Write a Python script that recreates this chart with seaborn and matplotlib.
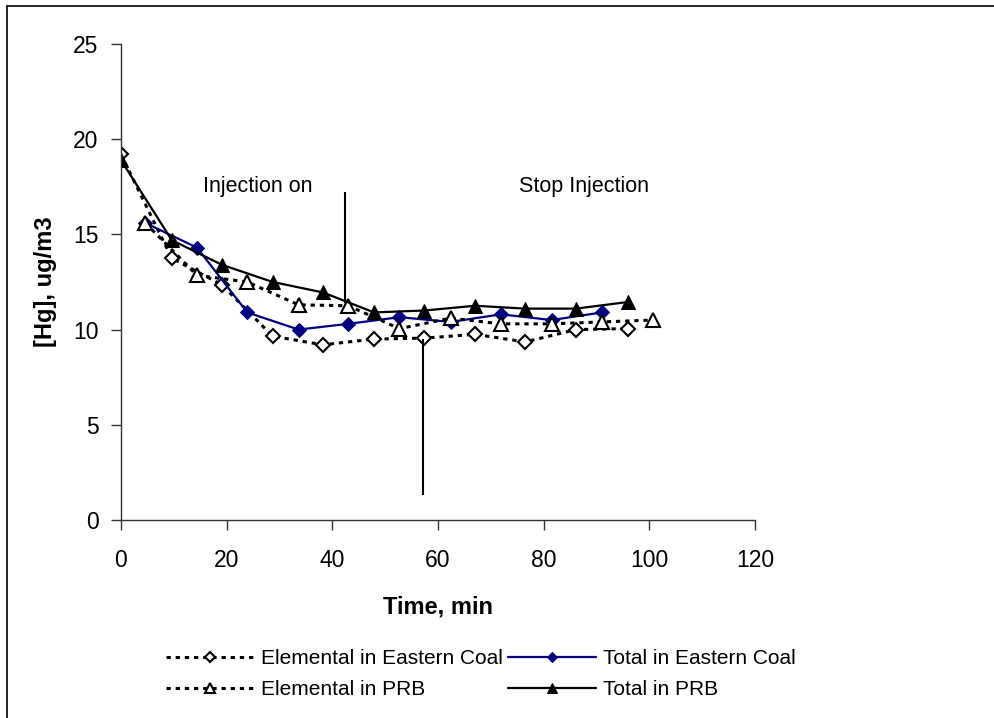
import matplotlib
matplotlib.use("Agg")
import matplotlib.pyplot as plt
from matplotlib.lines import Line2D
import seaborn as sns

# Sampling times (min): two interleaved schedules
time_a = [0, 9.6, 19.1, 28.7, 38.2, 47.9, 57.4, 67.0, 76.5, 86.1, 96.0]
time_b = [4.6, 14.4, 23.9, 33.6, 43.0, 52.7, 62.4, 71.9, 81.5, 91.0, 100.6]

# Mercury concentration, ug/m3
elemental_eastern = [19.2, 13.75, 12.35, 9.65, 9.2, 9.5, 9.55, 9.75, 9.35, 10.0, 10.05]
total_eastern = [15.6, 14.3, 10.9, 10.0, 10.3, 10.65, 10.4, 10.8, 10.5, 10.9]
elemental_prb = [15.6, 12.85, 12.5, 11.3, 11.25, 10.05, 10.6, 10.3, 10.3, 10.4, 10.5]
total_prb = [18.9, 14.7, 13.4, 12.5, 11.95, 10.9, 11.0, 11.25, 11.1, 11.1, 11.45]

labels = ["Elemental in Eastern Coal", "Total in Eastern Coal",
          "Elemental in PRB", "Total in PRB"]

# Injection markers: (time, y_low, y_high)
injection_on = (42.4, 11.4, 17.2)
injection_stop = (57.2, 1.3, 9.5)

x_ticks = [0, 20, 40, 60, 80, 100, 120]
y_ticks = [0, 5, 10, 15, 20, 25]

sns.set_style("ticks")
plt.rcParams["font.family"] = ["Liberation Sans", "DejaVu Sans"]
plt.rcParams["text.color"] = "black"

fig = plt.figure(figsize=(9.94, 7.18), dpi=100)
ax = fig.add_axes([0.1217, 0.2758, 0.638, 0.663])

navy = "#000080"
dot = (0, (1.4, 1.6))

sns.lineplot(x=time_a, y=elemental_eastern, ax=ax, color="black", lw=2.2,
             linestyle=dot, marker="D", markersize=7, markerfacecolor="white",
             markeredgecolor="black", markeredgewidth=1.5, label=labels[0])
sns.lineplot(x=time_b[:len(total_eastern)], y=total_eastern, ax=ax, color=navy,
             lw=1.6, marker="D", markersize=7, markerfacecolor=navy,
             markeredgecolor=navy, label=labels[1])
sns.lineplot(x=time_b, y=elemental_prb, ax=ax, color="black", lw=2.2,
             linestyle=dot, marker="^", markersize=10, markerfacecolor="white",
             markeredgecolor="black", markeredgewidth=1.5, label=labels[2])
sns.lineplot(x=time_a, y=total_prb, ax=ax, color="black", lw=1.6,
             marker="^", markersize=10, markerfacecolor="black",
             markeredgecolor="black", label=labels[3])

ax.vlines([injection_on[0]], injection_on[1], injection_on[2], color="black", lw=1.5)
ax.vlines([injection_stop[0]], injection_stop[1], injection_stop[2], color="black", lw=1.5)
ax.text(25.9, 17.5, "Injection on", ha="center", va="center", fontsize=15.5,
        color="black")
ax.text(87.6, 17.5, "Stop Injection", ha="center", va="center", fontsize=15.5,
        color="black")

ax.set_xlim(0, 120)
ax.set_ylim(0, 25)
ax.set_xticks(x_ticks)
ax.set_yticks(y_ticks)
ax.tick_params(axis="both", direction="out", length=7, width=1, colors="#333333",
               labelsize=16.5, labelcolor="black")
ax.tick_params(axis="x", pad=14)
ax.tick_params(axis="y", pad=9)
for side in ("top", "right"):
    ax.spines[side].set_visible(False)
for side in ("left", "bottom"):
    ax.spines[side].set_color("#333333")
    ax.spines[side].set_linewidth(1)

ax.set_xlabel("Time, min", fontsize=17, fontweight="bold", labelpad=17,
              color="black")
ax.set_ylabel("[Hg], ug/m3", fontsize=17, fontweight="bold", labelpad=12,
              color="black")

handles, hl = ax.get_legend_handles_labels()
ax.get_legend().remove()
order = [0, 2, 1, 3]
leg = fig.legend([handles[i] for i in order], [hl[i] for i in order],
                 loc="center", bbox_to_anchor=(0.484, 0.061), ncol=2, frameon=False,
                 fontsize=15, handlelength=4.2, handletextpad=0.35, columnspacing=0.25,
                 labelspacing=0.55, markerscale=0.7)
for t in leg.get_texts():
    t.set_color("black")

# Chart-area border along the left and top edges
fig.add_artist(Line2D([0.0075, 0.0075], [0, 0.9923], color="black", lw=1.2,
                      transform=fig.transFigure))
fig.add_artist(Line2D([0.0075, 1], [0.9923, 0.9923], color="black", lw=1.2,
                      transform=fig.transFigure))

fig.savefig("out.png", dpi=100)
